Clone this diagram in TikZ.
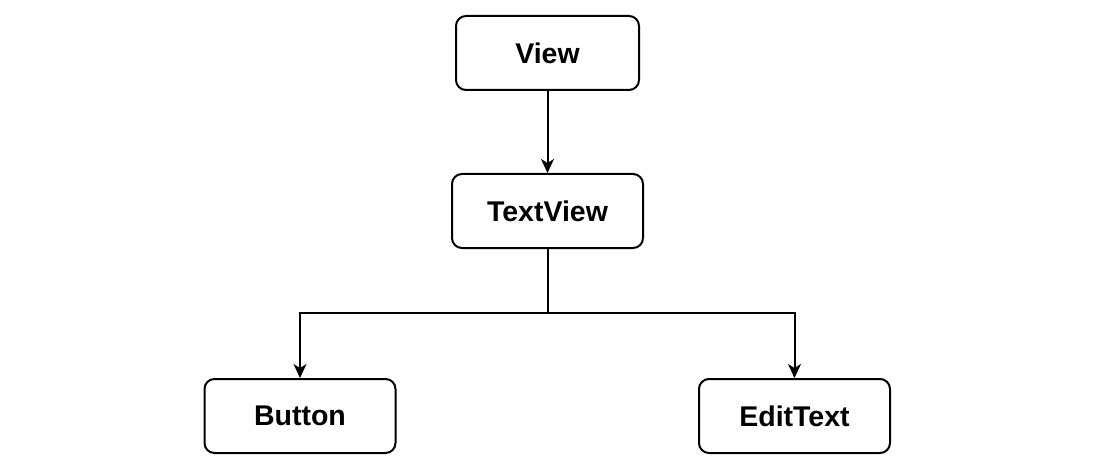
\documentclass[tikz,border=0pt]{standalone}
\usepackage{fontspec}
\setmainfont{Liberation Sans}
\usetikzlibrary{arrows.meta}
\tikzset{
  cls/.style={draw, line width=2pt, rounded corners=10pt, minimum width=191pt, minimum height=74pt, font=\fontsize{28.5}{34}\selectfont\bfseries},
  inh/.style={line width=2pt, -{Stealth[length=14pt,width=13pt,inset=4pt]}}
}
\begin{document}
\begin{tikzpicture}[x=1pt,y=-1pt]
\useasboundingbox (0,0) rectangle (1093,476);
\node[cls, minimum width=183pt] (view) at (547.5,53) {View};
\node[cls] (textview) at (547.5,211) {TextView};
\node[cls] (button) at (300,416) {Button};
\node[cls] (edittext) at (794.5,416) {EditText};
\coordinate (split) at (547.5,313);
\draw[inh] (view) -- (textview);
\draw[line width=2pt] (textview) -- (split);
\draw[inh] (split) -| (button);
\draw[inh] (split) -| (edittext);
\end{tikzpicture}
\end{document}
